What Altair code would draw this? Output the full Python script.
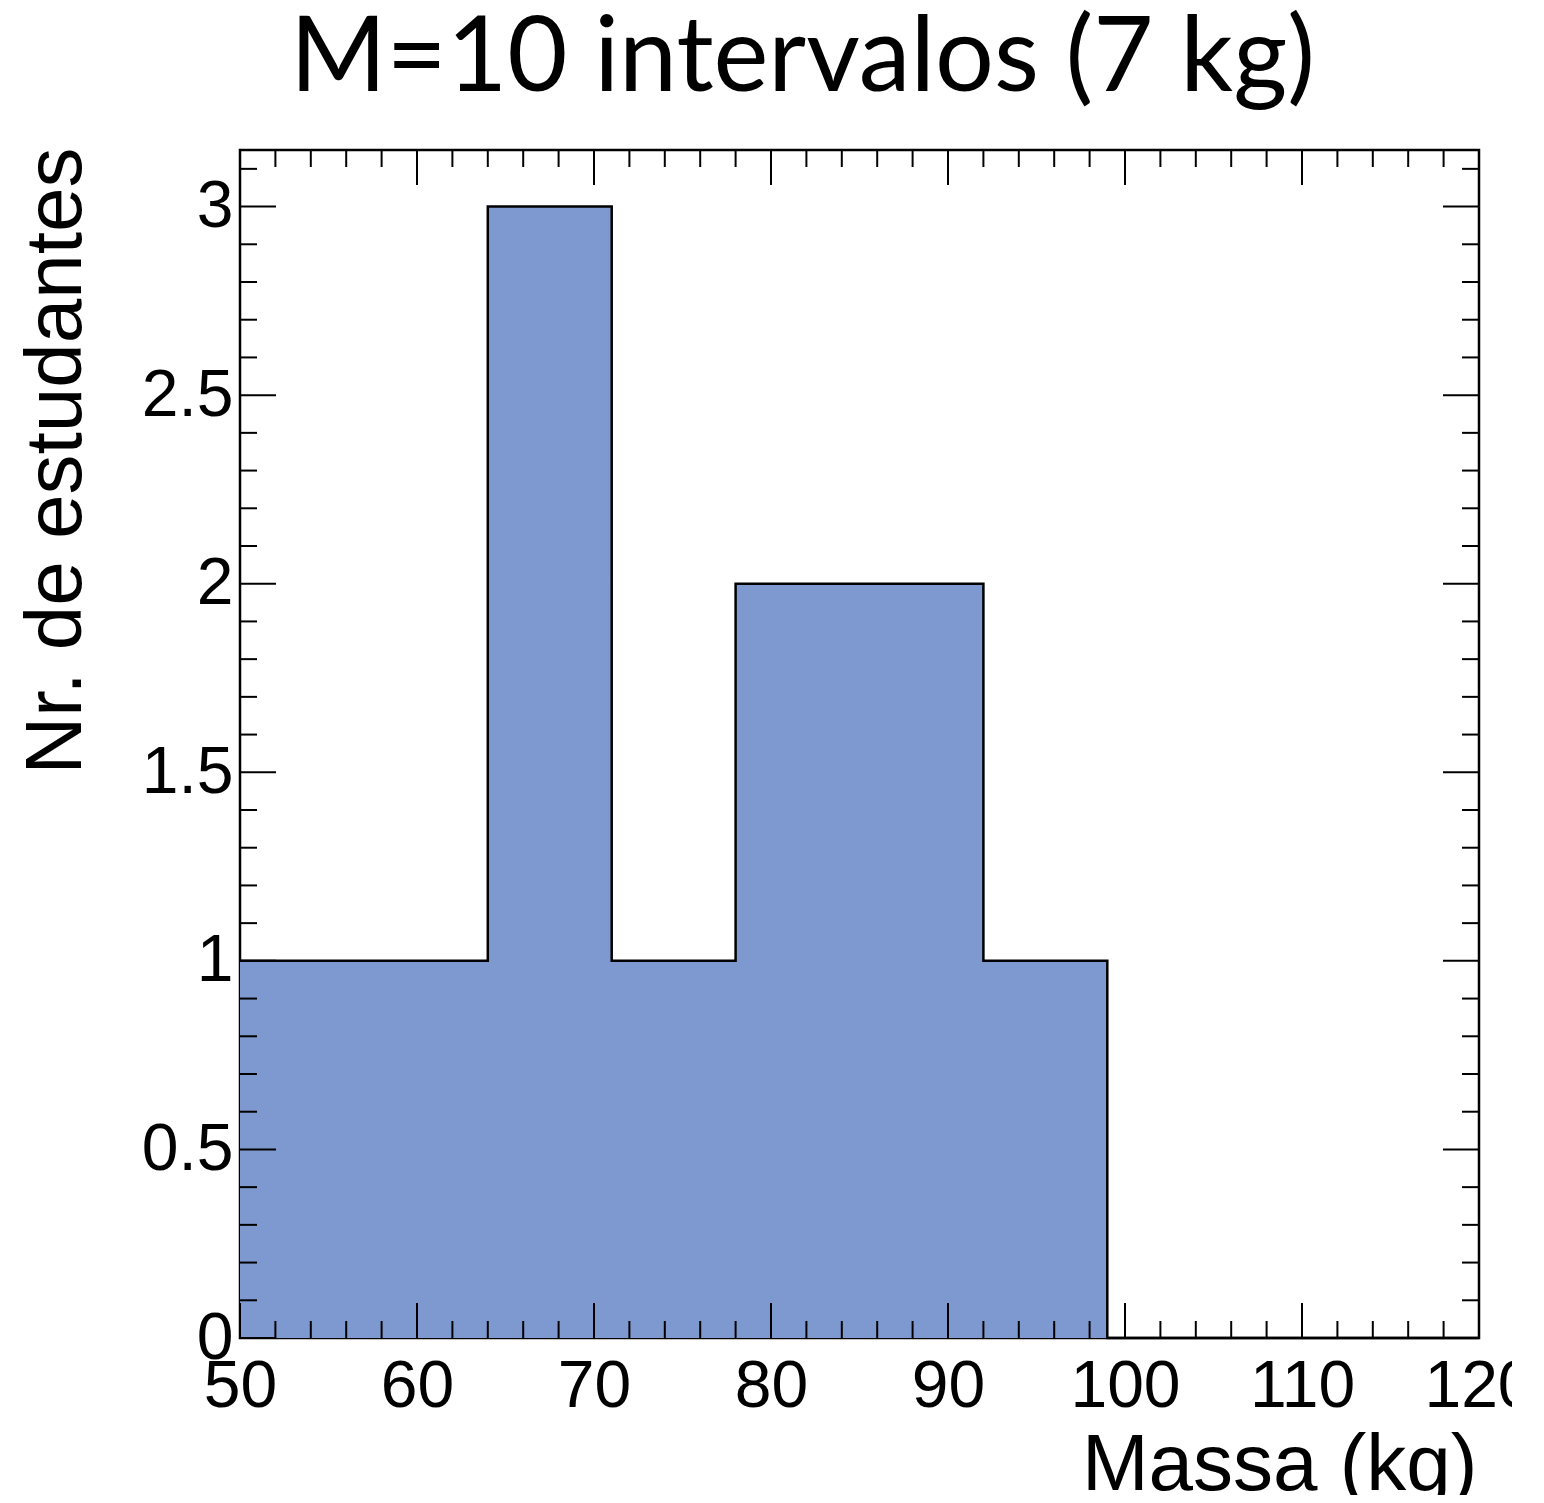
import altair as alt
import pandas as pd

bin_edges = [50, 57, 64, 71, 78, 85, 92, 99, 106, 113, 120]
counts = [1, 1, 3, 1, 2, 2, 1, 0, 0, 0]

x_major = [50, 60, 70, 80, 90, 100, 110, 120]
x_minor = [52, 54, 56, 58, 62, 64, 66, 68, 72, 74, 76, 78, 82, 84, 86, 88,
           92, 94, 96, 98, 102, 104, 106, 108, 112, 114, 116, 118]
y_major = [0, 0.5, 1, 1.5, 2, 2.5, 3]
y_minor = [0.1, 0.2, 0.3, 0.4, 0.6, 0.7, 0.8, 0.9, 1.1, 1.2, 1.3, 1.4,
           1.6, 1.7, 1.8, 1.9, 2.1, 2.2, 2.3, 2.4, 2.6, 2.7, 2.8, 2.9, 3.1]

W, H = 1239, 1188
XDOM = [50, 120]
YDOM = [0, 3.15]
FILL = "#7E99D0"
LABEL_FONT = "Liberation Sans"

step_df = pd.DataFrame({"x": bin_edges, "y": counts + [counts[-1]]})
xmaj_df = pd.DataFrame({"x": x_major})
xmin_df = pd.DataFrame({"x": x_minor})
ymaj_df = pd.DataFrame({"y": y_major})
ymin_df = pd.DataFrame({"y": y_minor})

xs = alt.Scale(domain=XDOM, nice=False, zero=False)
ys = alt.Scale(domain=YDOM, nice=False, zero=False)

x_axis = alt.Axis(
    values=x_major, format="d", grid=False, ticks=False, domain=False,
    labelFont=LABEL_FONT, labelFontSize=66, labelPadding=16, labelColor="black",
    labelFlush=False, labelOverlap=False,
    title="Massa (kg)", titleFont=LABEL_FONT, titleFontSize=80,
    titleFontWeight="normal", titleColor="black",
    titleAlign="right", titleBaseline="alphabetic", titleAnchor="end",
    titleX=W - 2, titleY=151,
)
y_axis = alt.Axis(
    values=y_major, format="~g", grid=False, ticks=False, domain=False,
    labelFont=LABEL_FONT, labelFontSize=66, labelPadding=7, labelColor="black",
    labelFlush=False, labelOverlap=False,
    title="Nr. de estudantes", titleFont=LABEL_FONT, titleFontSize=80,
    titleFontWeight="normal", titleColor="black",
    titleAngle=270, titleAlign="right", titleBaseline="alphabetic",
    titleAnchor="end", titleX=-160, titleY=-3,
)

X = alt.X("x:Q", scale=xs, axis=x_axis)
Y = alt.Y("y:Q", scale=ys, axis=y_axis)

area = alt.Chart(step_df).mark_area(interpolate="step-after", color=FILL).encode(x=X, y=Y)
outline = alt.Chart(step_df).mark_line(
    interpolate="step-after", color="black", strokeWidth=2.5
).encode(x=X, y=Y)

def xticks(df, length):
    bot = alt.Chart(df).mark_rule(color="black", strokeWidth=2).encode(
        x=X, y=alt.value(H), y2=alt.value(H - length),
    )
    top = alt.Chart(df).mark_rule(color="black", strokeWidth=2).encode(
        x=X, y=alt.value(0), y2=alt.value(length),
    )
    return [bot, top]

def yticks(df, length):
    left = alt.Chart(df).mark_rule(color="black", strokeWidth=2).encode(
        y=Y, x=alt.value(0), x2=alt.value(length),
    )
    right = alt.Chart(df).mark_rule(color="black", strokeWidth=2).encode(
        y=Y, x=alt.value(W), x2=alt.value(W - length),
    )
    return [left, right]

layers = [area, outline] + xticks(xmaj_df, 35) + xticks(xmin_df, 17) \
    + yticks(ymaj_df, 36) + yticks(ymin_df, 17)

chart = alt.layer(*layers).properties(
    width=W, height=H,
    background="white",
    title=alt.TitleParams(
        "M=10 intervalos (7 kg)", font="Lato", fontSize=104,
        fontWeight="normal", color="black", anchor="middle",
        offset=34, dx=-57,
    ),
    autosize=alt.AutoSizeParams(type="none"),
    padding={"left": 232, "top": 142, "right": 33, "bottom": 157},
).configure_view(
    stroke="black", strokeWidth=2.5
)

chart.save("out.html", embed_options={"renderer": "svg", "actions": False})
